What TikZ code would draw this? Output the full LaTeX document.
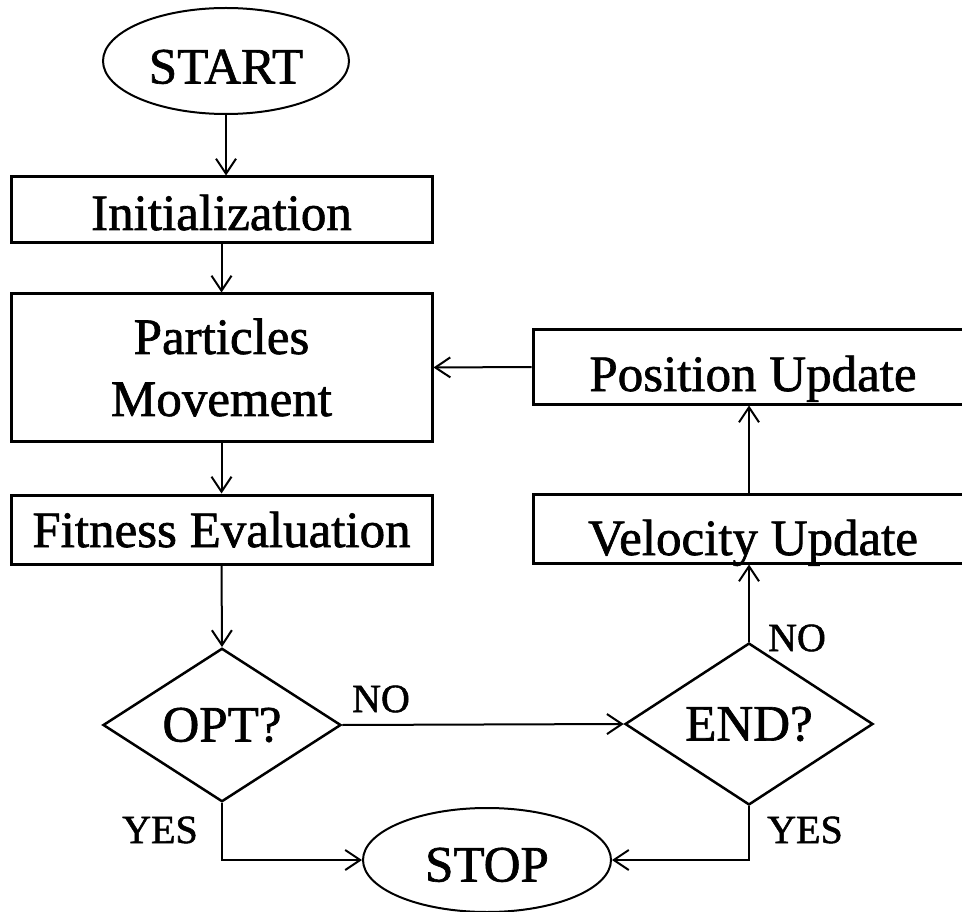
\documentclass[tikz,border=0pt]{standalone}
\usepackage{fontspec}
\setmainfont{Liberation Serif}[FakeBold=1.3]
\usetikzlibrary{shapes.geometric,arrows.meta}

\begin{document}
\begin{tikzpicture}[x=1pt,y=-1pt,
    box/.style={draw, line width=3pt, minimum width=421pt, inner sep=0pt,
        align=center, font=\fontsize{51}{62}\selectfont},
    term/.style={draw, ellipse, line width=2pt, inner sep=0pt,
        font=\fontsize{51}{62}\selectfont},
    decision/.style={draw, diamond, line width=2.5pt, inner sep=0pt,
        font=\fontsize{51}{62}\selectfont},
    answer/.style={inner sep=0pt, font=\fontsize{40}{48}\selectfont},
    flow/.style={line width=2pt, -{Straight Barb[length=15pt,width=20pt]}}]
            % Khung
            \useasboundingbox (0,0) rectangle (962,912);
            % Bat dau va ket thuc
            \node[term, minimum width=246pt, minimum height=106pt,
                text height=45pt, text depth=0pt] (start) at (226,61) {START};
            \node[term, minimum width=248pt, minimum height=104pt,
                text height=43pt, text depth=0pt] (stop) at (487,860) {STOP};
            % Cot trai
            \node[box, minimum height=66pt, text height=40pt, text depth=0pt]
                (init) at (221.5,210) {Initialization};
            \node[box, minimum height=147pt] (move) at (221.5,367.5) {Particles\\Movement};
            \node[box, minimum height=69pt, text height=35pt, text depth=0pt]
                (fit) at (221.5,529.5) {Fitness Evaluation};
            % Cot phai
            \node[box, minimum width=440pt, minimum height=74pt,
                text height=48pt, text depth=0pt] (pos) at (753,367) {Position Update};
            \node[box, minimum width=440pt, minimum height=69pt,
                text height=53pt, text depth=0pt] (vel) at (753,528.5) {Velocity Update};
            % Dieu kien
            \node[decision, minimum width=238pt, minimum height=144pt] (opt) at (222,725) {OPT?};
            \node[decision, minimum width=248pt, minimum height=143pt] (endd) at (749,724) {END?};
            % Nhan
            \node[answer] (optno) at (381,699) {NO};
            \node[answer] (optyes) at (160,830) {YES};
            \node[answer] (endno) at (797,638) {NO};
            \node[answer] (endyes) at (805,830) {YES};
            % Mui ten
            \draw[flow] (start.south) -- (start.south |- init.north);
            \draw[flow] (init.south) -- (move.north);
            \draw[flow] (move.south) -- (fit.north);
            \draw[flow] (fit.south) -- (opt.north);
            \draw[flow] (opt.east) -- (endd.west);
            \draw[flow] (opt.south) |- (stop.west);
            \draw[flow] (endd.south) |- (stop.east);
            \draw[flow] (endd.north) -- (endd.north |- vel.south);
            \draw[flow] (endd.north |- vel.north) -- (endd.north |- pos.south);
            \draw[flow] (pos.west) -- (move.east);
        \end{tikzpicture}
\end{document}
